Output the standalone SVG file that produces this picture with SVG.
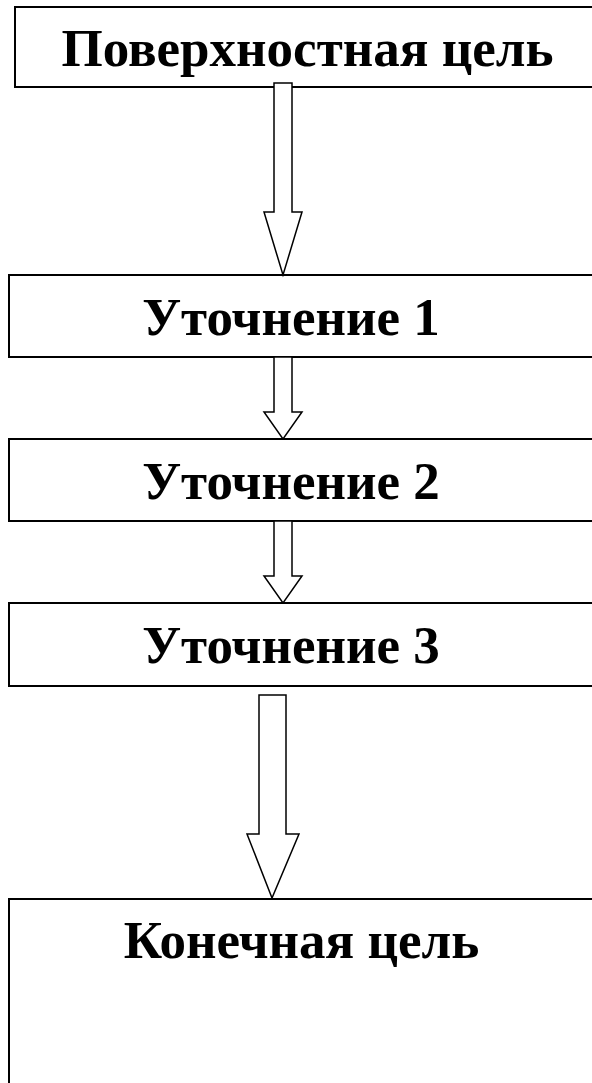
<svg xmlns="http://www.w3.org/2000/svg" width="592" height="1083" viewBox="0 0 592 1083">
<style>
.box{fill:#fff;stroke:#000;stroke-width:2}
.arr{fill:#fff;stroke:#000;stroke-width:1.5;stroke-linejoin:miter}
.t{font-family:"Liberation Serif","Times New Roman",serif;font-weight:bold;font-size:53px;fill:#000;text-anchor:middle}
</style>
<rect width="592" height="1083" fill="#fff"/>
<g id="n1"><rect class="box" x="15" y="7" width="590" height="80"/><text class="t" x="307.5" y="66">Поверхностная цель</text></g>
<g id="n2"><rect class="box" x="9" y="275" width="596" height="82"/><text class="t" x="291" y="335">Уточнение 1</text></g>
<g id="n3"><rect class="box" x="9" y="439" width="596" height="82"/><text class="t" x="291" y="499">Уточнение 2</text></g>
<g id="n4"><rect class="box" x="9" y="603" width="596" height="83"/><text class="t" x="291" y="663">Уточнение 3</text></g>
<g id="n5"><rect class="box" x="9" y="899" width="596" height="200"/><text class="t" x="301.5" y="958">Конечная цель</text></g>
<g id="connectors">
<path class="arr" d="M274,83 H292 V212 H302 L283,275 L264,212 H274 Z"/>
<path class="arr" d="M274,357 H292 V412 H302 L283,439 L264,412 H274 Z"/>
<path class="arr" d="M274,521 H292 V576 H302 L283,603 L264,576 H274 Z"/>
<path class="arr" d="M259,695 H286 V834 H299 L272,898 L247,834 H259 Z"/>
</g>
</svg>
